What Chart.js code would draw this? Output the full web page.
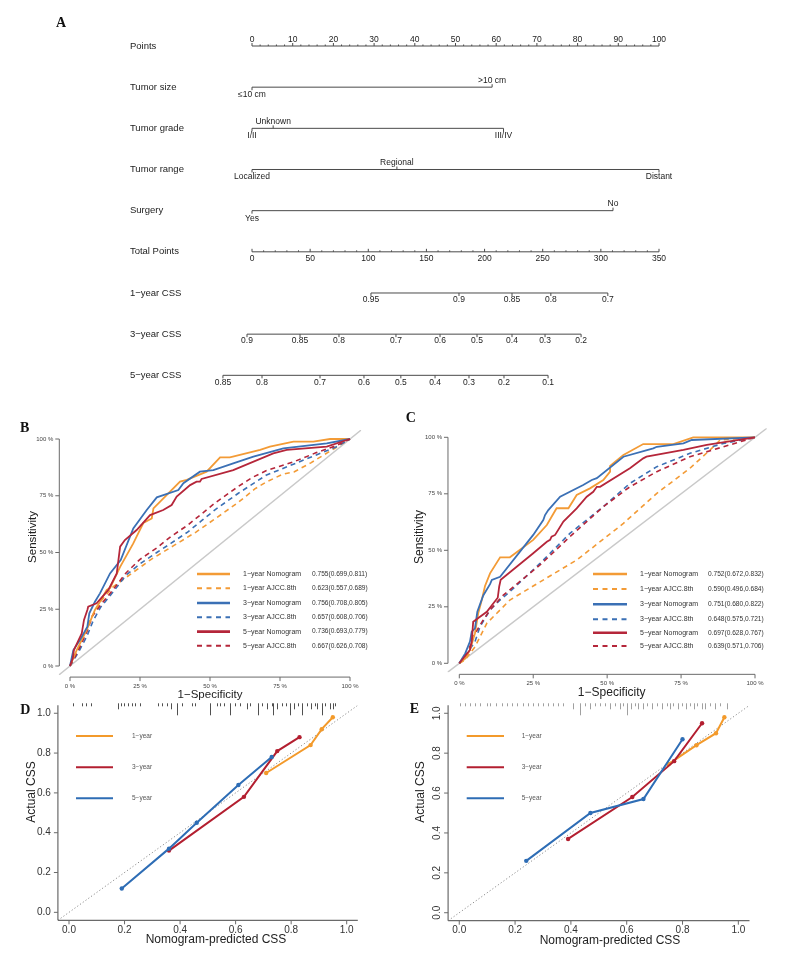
<!DOCTYPE html>
<html><head><meta charset="utf-8">
<script src="https://cdn.jsdelivr.net/npm/chart.js@4.4.1/dist/chart.umd.min.js"></script>
<style>
html,body{margin:0;padding:0;background:#fff;}
#wrap{position:relative;width:789px;height:959px;overflow:hidden;background:#fff;}
canvas{position:absolute;left:0;top:0;}
</style></head><body><div id="wrap">
<canvas id="cA" width="789" height="959"></canvas>
<canvas id="cB" width="789" height="959"></canvas>
<canvas id="cC" width="789" height="959"></canvas>
<canvas id="cD" width="789" height="959"></canvas>
<canvas id="cE" width="789" height="959"></canvas>
</div>
<script>
// ================= DATA =================
// Panel A: nomogram
const nomoRowNames = ["Points","Tumor size","Tumor grade","Tumor range","Surgery","Total Points","1\u2212year CSS","3\u2212year CSS","5\u2212year CSS"];
const pointsTicks = [0,10,20,30,40,50,60,70,80,90,100];
const tumorSizeLabels = ["\u226410 cm", ">10 cm"];
const tumorSizePoints = [0, 59];
const tumorGradeLabels = ["I/II", "Unknown", "III/IV"];
const tumorGradePoints = [0, 5.2, 61.8];
const tumorRangeLabels = ["Localized", "Regional", "Distant"];
const tumorRangePoints = [0, 35.6, 100];
const surgeryLabels = ["Yes", "No"];
const surgeryPoints = [0, 88.7];
const totalPointsTicks = [0,50,100,150,200,250,300,350];
const css1Labels = ["0.95","0.9","0.85","0.8","0.7"];
const css1Total  = [102.3,178,223.6,257,306];
const css3Labels = ["0.9","0.85","0.8","0.7","0.6","0.5","0.4","0.3","0.2"];
const css3Total  = [-4.3,41.3,74.8,123.8,161.7,193.5,223.6,252,283];
const css5Labels = ["0.85","0.8","0.7","0.6","0.5","0.4","0.3","0.2","0.1"];
const css5Total  = [-25,8.6,58.5,96.3,128,157.4,186.6,216.7,254.6];

// Panel B/C: ROC curves, [1-specificity, sensitivity]
const rocTicks = [0,0.25,0.5,0.75,1];
const rocTickLabels = ["0 %","25 %","50 %","75 %","100 %"];
const rocLegendLabels = ["1\u2212year Nomogram","1\u2212year AJCC.8th","3\u2212year Nomogram","3\u2212year AJCC.8th","5\u2212year Nomogram","5\u2212year AJCC.8th"];
const aucB = ["0.755(0.699,0.811)","0.623(0.557,0.689)","0.756(0.708,0.805)","0.657(0.608,0.706)","0.736(0.693,0.779)","0.667(0.626,0.708)"];
const aucC = ["0.752(0.672,0.832)","0.590(0.496,0.684)","0.751(0.680,0.822)","0.648(0.575,0.721)","0.697(0.628,0.767)","0.639(0.571,0.706)"];

const rocB_1y_nomogram = [[0,0],[0.024,0.07],[0.06,0.16],[0.089,0.247],[0.107,0.283],[0.131,0.335],[0.143,0.343],[0.179,0.437],[0.226,0.54],[0.244,0.585],[0.262,0.63],[0.292,0.65],[0.298,0.694],[0.393,0.812],[0.417,0.82],[0.488,0.856],[0.536,0.919],[0.571,0.919],[0.679,0.952],[0.714,0.966],[0.798,0.988],[0.869,0.988],[0.929,1],[1,1]];
const rocB_1y_ajcc = [[0,0],[0.024,0.056],[0.042,0.107],[0.071,0.203],[0.113,0.29],[0.155,0.35],[0.2,0.39],[0.29,0.47],[0.37,0.53],[0.45,0.59],[0.52,0.65],[0.6,0.72],[0.66,0.78],[0.7,0.81],[0.76,0.845],[0.8,0.855],[0.86,0.895],[0.94,0.955],[1,1]];
const rocB_3y_nomogram = [[0,0],[0.012,0.07],[0.036,0.115],[0.062,0.173],[0.069,0.232],[0.089,0.283],[0.107,0.32],[0.143,0.408],[0.181,0.467],[0.226,0.606],[0.274,0.687],[0.31,0.743],[0.387,0.775],[0.405,0.805],[0.464,0.856],[0.512,0.863],[0.583,0.893],[0.655,0.922],[0.762,0.959],[0.917,0.981],[1,1]];
const rocB_3y_ajcc = [[0,0],[0.03,0.06],[0.06,0.13],[0.083,0.2],[0.11,0.26],[0.15,0.32],[0.2,0.4],[0.25,0.45],[0.31,0.5],[0.36,0.54],[0.42,0.59],[0.47,0.64],[0.52,0.69],[0.6,0.76],[0.65,0.8],[0.7,0.84],[0.75,0.865],[0.8,0.89],[0.88,0.93],[0.95,0.965],[1,1]];
const rocB_5y_nomogram = [[0,0],[0.01,0.034],[0.014,0.07],[0.042,0.144],[0.05,0.203],[0.062,0.247],[0.065,0.261],[0.095,0.276],[0.137,0.335],[0.167,0.408],[0.179,0.526],[0.196,0.555],[0.238,0.599],[0.286,0.665],[0.333,0.687],[0.363,0.709],[0.381,0.746],[0.429,0.797],[0.452,0.812],[0.464,0.812],[0.47,0.824],[0.583,0.863],[0.726,0.937],[0.774,0.952],[0.917,0.966],[1,1]];
const rocB_5y_ajcc = [[0,0],[0.03,0.07],[0.06,0.15],[0.08,0.22],[0.11,0.27],[0.15,0.33],[0.2,0.41],[0.25,0.47],[0.31,0.52],[0.36,0.57],[0.42,0.62],[0.47,0.67],[0.52,0.72],[0.6,0.79],[0.65,0.83],[0.7,0.86],[0.75,0.88],[0.8,0.9],[0.88,0.94],[0.95,0.97],[1,1]];

const rocC_1y_nomogram = [[0,0],[0.02,0.022],[0.036,0.059],[0.053,0.133],[0.064,0.221],[0.076,0.28],[0.087,0.342],[0.104,0.398],[0.138,0.469],[0.171,0.469],[0.25,0.546],[0.296,0.612],[0.329,0.686],[0.369,0.686],[0.397,0.745],[0.442,0.774],[0.487,0.811],[0.51,0.848],[0.51,0.873],[0.555,0.922],[0.622,0.97],[0.724,0.97],[0.791,1],[1,1]];
const rocC_1y_ajcc = [[0,0],[0.02,0.015],[0.036,0.044],[0.053,0.073],[0.093,0.177],[0.138,0.236],[0.171,0.28],[0.25,0.342],[0.397,0.457],[0.555,0.619],[0.668,0.752],[0.78,0.863],[0.848,0.944],[0.882,0.988],[1,1]];
const rocC_3y_nomogram = [[0,0],[0.02,0.044],[0.036,0.096],[0.042,0.14],[0.053,0.155],[0.061,0.228],[0.081,0.3],[0.104,0.35],[0.11,0.369],[0.138,0.383],[0.25,0.568],[0.284,0.634],[0.29,0.656],[0.301,0.678],[0.341,0.737],[0.419,0.789],[0.448,0.811],[0.465,0.819],[0.555,0.914],[0.656,0.951],[0.668,0.958],[0.758,0.973],[0.786,0.988],[1,1]];
const rocC_3y_ajcc = [[0,0],[0.03,0.051],[0.053,0.096],[0.07,0.162],[0.104,0.236],[0.138,0.28],[0.171,0.317],[0.273,0.442],[0.374,0.575],[0.487,0.693],[0.577,0.796],[0.668,0.87],[0.78,0.929],[0.893,0.973],[1,1]];
const rocC_5y_nomogram = [[0,0],[0.036,0.059],[0.042,0.096],[0.047,0.184],[0.093,0.228],[0.13,0.29],[0.135,0.34],[0.14,0.37],[0.25,0.487],[0.296,0.538],[0.307,0.546],[0.312,0.56],[0.324,0.568],[0.352,0.627],[0.397,0.686],[0.431,0.737],[0.453,0.759],[0.465,0.781],[0.476,0.781],[0.577,0.863],[0.622,0.907],[0.633,0.914],[0.758,0.944],[0.837,0.966],[1,1]];
const rocC_5y_ajcc = [[0,0],[0.03,0.051],[0.047,0.118],[0.081,0.192],[0.104,0.236],[0.149,0.302],[0.273,0.435],[0.374,0.56],[0.487,0.693],[0.577,0.781],[0.668,0.848],[0.78,0.914],[0.893,0.958],[1,1]];

// Panel D/E: calibration, [predicted, actual]
const calTicks = [0,0.2,0.4,0.6,0.8,1.0];
const calTickLabels = ["0.0","0.2","0.4","0.6","0.8","1.0"];
const calLegendLabels = ["1\u2212year","3\u2212year","5\u2212year"];
const calD_1y = [[0.71,0.70],[0.87,0.84],[0.91,0.92],[0.95,0.98]];
const calD_3y = [[0.36,0.31],[0.63,0.58],[0.75,0.81],[0.83,0.88]];
const calD_5y = [[0.19,0.12],[0.36,0.32],[0.46,0.45],[0.61,0.64],[0.73,0.78]];
const calE_1y = [[0.75,0.745],[0.85,0.84],[0.92,0.90],[0.95,0.98]];
const calE_3y = [[0.39,0.37],[0.62,0.58],[0.77,0.76],[0.87,0.95]];
const calE_5y = [[0.24,0.26],[0.47,0.50],[0.66,0.57],[0.80,0.87]];
// rug of predicted values (position, count)
const rugD_x = [.013,.046,.061,.078,.178,.186,.198,.214,.226,.238,.256,.322,.334,.352,.366,.388,.406,.442,.454,.508,.532,.544,.558,.58,.598,.616,.64,.652,.682,.694,.712,.73,.736,.75,.766,.781,.796,.81,.826,.838,.856,.87,.886,.894,.91,.922,.94,.952,.958];
const rugD_n = [1,1,1,1,2,1,1,1,1,1,1,1,1,1,2,4,1,1,1,4,1,1,1,4,1,1,2,1,4,1,2,1,4,2,1,1,4,2,1,4,1,2,1,2,4,1,2,2,1];
const rugE_x = [.003,.02,.038,.056,.074,.098,.11,.132,.152,.17,.188,.206,.229,.247,.265,.283,.301,.319,.337,.355,.373,.409,.433,.451,.468,.486,.504,.522,.54,.558,.576,.588,.6,.614,.63,.642,.659,.674,.69,.707,.725,.743,.755,.767,.785,.797,.813,.827,.841,.853,.869,.881,.899,.916,.934,.958];
const rugE_n = [1,1,1,1,1,1,1,1,1,1,1,1,1,1,1,1,1,1,1,1,1,2,4,1,2,1,1,1,2,1,2,1,4,2,1,2,2,1,2,1,2,1,2,1,2,1,2,1,2,1,2,2,1,2,1,2];

// ================= STYLE / HELPERS =================
const FONT = '"Liberation Sans", Arial, Helvetica, sans-serif';
const SERIF = '"Liberation Serif", "Times New Roman", serif';
const fnt = (s, w) => (w ? w + ' ' : '') + s + 'px ' + FONT;
const ORANGE = '#F39B36', BLUE = '#3B70B5', RED = '#B5263A';
const C_ORANGE = '#F39A2B', C_RED = '#B31F30', C_BLUE = '#2E6DB5';
const toXY = arr => arr.map(p => ({x: p[0], y: p[1]}));

function line(ctx, x1, y1, x2, y2) { ctx.beginPath(); ctx.moveTo(x1, y1); ctx.lineTo(x2, y2); ctx.stroke(); }
function text(ctx, s, x, y, font, align, color, rot) {
  ctx.save(); ctx.font = font; ctx.fillStyle = color || '#222';
  ctx.textAlign = align || 'center'; ctx.textBaseline = 'middle';
  ctx.translate(x, y); if (rot) ctx.rotate(rot); ctx.fillText(s, 0, 0); ctx.restore();
}
function baseOpts(pad, xr, yr, yrev) {
  return {
    responsive: false, animation: false, devicePixelRatio: 1, events: [],
    layout: {padding: pad},
    plugins: {legend: {display: false}, tooltip: {enabled: false}, title: {display: false}},
    scales: {
      x: {type: 'linear', display: false, min: xr[0], max: xr[1]},
      y: {type: 'linear', display: false, min: yr[0], max: yr[1], reverse: !!yrev}
    }
  };
}
function lineDs(data, color, width, dash, order, extra) {
  return Object.assign({data: toXY(data), showLine: true, borderColor: color, backgroundColor: color,
    borderWidth: width, borderDash: dash || [], pointRadius: 0, tension: 0, order: order, fill: false}, extra || {});
}

// ================= PANEL A: NOMOGRAM =================
const TOTAL_MAX = totalPointsTicks[totalPointsTicks.length - 1];
const POINTS_MAX = pointsTicks[pointsTicks.length - 1];
const tp = v => v * POINTS_MAX / TOTAL_MAX;
const varRows = [
  {labels: tumorSizeLabels, pts: tumorSizePoints},
  {labels: tumorGradeLabels, pts: tumorGradePoints},
  {labels: tumorRangeLabels, pts: tumorRangePoints},
  {labels: surgeryLabels, pts: surgeryPoints}
];
const cssRows = [
  {labels: css1Labels, tot: css1Total},
  {labels: css3Labels, tot: css3Total},
  {labels: css5Labels, tot: css5Total}
];
const AX = '#4a4a4a';
const nomoDatasets = [];
nomoDatasets.push(lineDs([[0, 0], [POINTS_MAX, 0]], AX, 1));
varRows.forEach((r, i) => nomoDatasets.push(lineDs([[Math.min(...r.pts), i + 1], [Math.max(...r.pts), i + 1]], AX, 1)));
nomoDatasets.push(lineDs([[0, 5], [tp(TOTAL_MAX), 5]], AX, 1));
cssRows.forEach((r, i) => nomoDatasets.push(lineDs([[tp(Math.min(...r.tot)), 6 + i], [tp(Math.max(...r.tot)), 6 + i]], AX, 1)));

const nomoPlugin = {
  id: 'nomoDeco',
  afterDatasetsDraw(chart) {
    const ctx = chart.ctx, X = v => chart.scales.x.getPixelForValue(v), Y = v => chart.scales.y.getPixelForValue(v);
    ctx.save(); ctx.strokeStyle = AX; ctx.lineWidth = 1;
    text(ctx, 'A', 61, 23, 'bold 14px ' + SERIF, 'center', '#111');
    nomoRowNames.forEach((n, i) => text(ctx, n, X(-30), Y(i), fnt(9.5), 'left', '#222'));
    const tf = fnt(8.5);
    // Points axis
    let y0 = Y(0);
    for (let v = 0; v <= POINTS_MAX; v += 2) line(ctx, X(v), y0, X(v), y0 - (v % 10 === 0 ? 3 : 1.5));
    pointsTicks.forEach(v => text(ctx, String(v), X(v), y0 - 6.5, tf, 'center', '#222'));
    // variable rows
    varRows.forEach((r, i) => {
      const yy = Y(i + 1);
      r.pts.forEach((p, k) => {
        const up = k % 2 === 1;
        line(ctx, X(p), yy, X(p), yy + (up ? -3 : 3));
        text(ctx, r.labels[k], X(p), yy + (up ? -7 : 7.5), tf, 'center', '#222');
      });
    });
    // total points
    const y5 = Y(5);
    for (let v = 0; v <= TOTAL_MAX; v += 10) line(ctx, X(tp(v)), y5, X(tp(v)), y5 - (v % 50 === 0 ? 3 : 1.5));
    totalPointsTicks.forEach(v => text(ctx, String(v), X(tp(v)), y5 + 7, tf, 'center', '#222'));
    // CSS rows
    cssRows.forEach((r, i) => {
      const yy = Y(6 + i);
      r.tot.forEach((t, k) => {
        line(ctx, X(tp(t)), yy, X(tp(t)), yy + 3);
        text(ctx, r.labels[k], X(tp(t)), yy + 7, tf, 'center', '#222');
      });
    });
    ctx.restore();
  }
};
new Chart(document.getElementById('cA'), {
  type: 'scatter', data: {datasets: nomoDatasets},
  options: baseOpts({left: 211.3, right: 89.3, top: 25.42, bottom: 563.1}, [-10, 110], [-0.5, 8.5], true),
  plugins: [nomoPlugin]
});

// ================= PANELS B, C: ROC =================
function rocChart(id, curves, auc, pad, cfg) {
  const colors = [ORANGE, ORANGE, BLUE, BLUE, RED, RED];
  const ds = [lineDs([[-0.04, -0.04], [1.04, 1.04]], '#c9c9c9', 1.4, [], 100)];
  curves.forEach((c, i) => {
    const dashed = i % 2 === 1;
    ds.push(lineDs(c, colors[i], dashed ? 1.6 : 1.8, dashed ? [5, 4] : [], dashed ? 20 - i : 10 - i));
  });
  const plugin = {
    id: 'rocDeco' + id,
    afterDatasetsDraw(chart) {
      const ctx = chart.ctx, ca = chart.chartArea;
      const X = v => chart.scales.x.getPixelForValue(v), Y = v => chart.scales.y.getPixelForValue(v);
      ctx.save(); ctx.strokeStyle = '#6a6a6a'; ctx.lineWidth = 1;
      const ax = ca.left + 0.5, ay = ca.bottom + 2;
      line(ctx, ax, Y(0), ax, Y(1));
      line(ctx, X(0), ay, X(1), ay);
      rocTicks.forEach((t, i) => {
        line(ctx, ax, Y(t), ax - 4, Y(t));
        text(ctx, rocTickLabels[i], ax - 6, Y(t), fnt(6), 'right', '#444');
        line(ctx, X(t), ay, X(t), ay + 4);
        text(ctx, rocTickLabels[i], X(t), ay + 9.5, fnt(6), 'center', '#444');
      });
      text(ctx, cfg.letter, cfg.letterPos[0], cfg.letterPos[1], 'bold 14px ' + SERIF, 'center', '#111');
      text(ctx, 'Sensitivity', cfg.ylab[0], cfg.ylab[1], fnt(cfg.labSize), 'center', '#222', -Math.PI / 2);
      text(ctx, '1\u2212Specificity', cfg.xlab[0], cfg.xlab[1], fnt(cfg.labSize), 'center', '#222');
      // legend
      cfg.legY.forEach((yy, i) => {
        const dashed = i % 2 === 1;
        ctx.strokeStyle = colors[i]; ctx.lineWidth = dashed ? 2 : 2.6; ctx.setLineDash(dashed ? [5, 4.5] : []);
        line(ctx, cfg.legX[0], yy, cfg.legX[1], yy);
        ctx.setLineDash([]);
        text(ctx, rocLegendLabels[i], cfg.legX[2], yy, fnt(7), 'left', '#333');
        text(ctx, auc[i], cfg.legX[3], yy, fnt(6.6), 'left', '#333');
      });
      ctx.restore();
    }
  };
  new Chart(document.getElementById(id), {
    type: 'scatter', data: {datasets: ds},
    options: baseOpts(pad, [-0.04, 1.04], [-0.04, 1.04]),
    plugins: [plugin]
  });
}
rocChart('cB', [rocB_1y_nomogram, rocB_1y_ajcc, rocB_3y_nomogram, rocB_3y_ajcc, rocB_5y_nomogram, rocB_5y_ajcc], aucB,
  {left: 58.8, right: 427.8, top: 429.92, bottom: 283.92},
  {letter: 'B', letterPos: [24.7, 428], ylab: [33, 537], xlab: [210, 695], labSize: 11.5,
   legX: [197, 230, 243, 312], legY: [574, 588.3, 603, 617.3, 631.6, 645.8]});
rocChart('cC', [rocC_1y_nomogram, rocC_1y_ajcc, rocC_3y_nomogram, rocC_3y_ajcc, rocC_5y_nomogram, rocC_5y_ajcc], aucC,
  {left: 447.47, right: 22.17, top: 428.26, bottom: 286.66},
  {letter: 'C', letterPos: [410.7, 418], ylab: [420, 537], xlab: [611.7, 692.7], labSize: 12,
   legX: [593, 627, 640, 708], legY: [574, 589, 604.3, 619.3, 632.7, 646]});

// ================= PANELS D, E: CALIBRATION =================
function calChart(id, series, rugX, rugN, pad, cfg) {
  const colors = [C_ORANGE, C_RED, C_BLUE];
  const ds = [lineDs([[-0.04, -0.04], [1.04, 1.04]], '#8c8c8c', 1, [1.2, 2.2], 100)];
  series.forEach((s, i) => ds.push(lineDs(s, colors[i], 2, [], 10 - i,
    {pointRadius: 2.2, pointStyle: 'circle', pointBackgroundColor: colors[i], pointBorderColor: colors[i], pointBorderWidth: 0})));
  const plugin = {
    id: 'calDeco' + id,
    afterDatasetsDraw(chart) {
      const ctx = chart.ctx, ca = chart.chartArea;
      const X = v => chart.scales.x.getPixelForValue(v), Y = v => chart.scales.y.getPixelForValue(v);
      ctx.save(); ctx.strokeStyle = '#6a6a6a'; ctx.lineWidth = 1.2;
      const ax = ca.left, ay = ca.bottom;
      line(ctx, ax, ca.top, ax, ay);
      line(ctx, ax, ay, ca.right, ay);
      ctx.lineWidth = 1;
      calTicks.forEach((t, i) => {
        line(ctx, ax, Y(t), ax - 4, Y(t));
        if (cfg.rotY) text(ctx, calTickLabels[i], ax - 10.5, Y(t), fnt(10), 'center', '#333', -Math.PI / 2);
        else text(ctx, calTickLabels[i], ax - 7, Y(t), fnt(10), 'right', '#333');
        line(ctx, X(t), ay, X(t), ay + 4);
        text(ctx, calTickLabels[i], X(t), ay + 10, fnt(10), 'center', '#333');
      });
      // rug
      ctx.strokeStyle = cfg.rugColor; ctx.lineWidth = 1;
      const top = ca.top - 2;
      rugX.forEach((v, i) => line(ctx, Math.round(X(v)) + 0.5, top, Math.round(X(v)) + 0.5, top + rugN[i] * 3));
      text(ctx, cfg.letter, cfg.letterPos[0], cfg.letterPos[1], 'bold 14px ' + SERIF, 'center', '#111');
      text(ctx, 'Actual CSS', cfg.ylab[0], cfg.ylab[1], fnt(12), 'center', '#222', -Math.PI / 2);
      text(ctx, 'Nomogram-predicted CSS', cfg.xlab[0], cfg.xlab[1], fnt(12), 'center', '#222');
      cfg.legY.forEach((yy, i) => {
        ctx.strokeStyle = colors[i]; ctx.lineWidth = 2;
        line(ctx, cfg.legX[0], yy, cfg.legX[1], yy);
        text(ctx, calLegendLabels[i], cfg.legX[2], yy, fnt(6.5), 'left', '#555');
      });
      ctx.restore();
    }
  };
  new Chart(document.getElementById(id), {
    type: 'scatter', data: {datasets: ds},
    options: baseOpts(pad, [-0.04, 1.04], [-0.04, 1.04]),
    plugins: [plugin]
  });
}
calChart('cD', [calD_1y, calD_3y, calD_5y], rugD_x, rugD_n,
  {left: 57.9, right: 431.2, top: 705.3, bottom: 38.7},
  {letter: 'D', letterPos: [25.3, 710], ylab: [31.7, 792], xlab: [216, 940], rotY: false, rugColor: '#505050',
   legX: [76, 113, 132], legY: [736, 767.3, 798.3]});
calChart('cE', [calE_1y, calE_3y, calE_5y], rugE_x, rugE_n,
  {left: 448.1, right: 39.5, top: 705.3, bottom: 38.3},
  {letter: 'E', letterPos: [414.5, 709.5], ylab: [420.7, 792], xlab: [610, 941], rotY: true, rugColor: '#a0a0a0',
   legX: [466.7, 504, 521.7], legY: [736, 767.3, 798.3]});
</script></body></html>
